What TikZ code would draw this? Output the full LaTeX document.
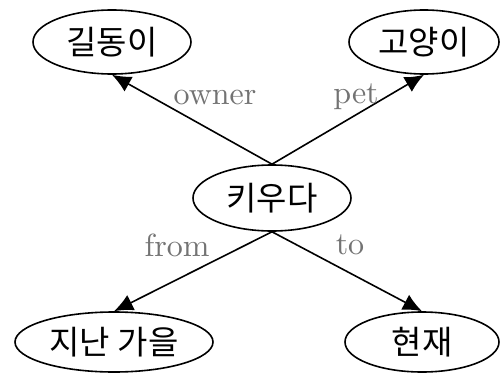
\documentclass[tikz,border=0pt]{standalone}
\usepackage{fontspec}
\newfontfamily\kofont{Noto Sans CJK KR}
\newfontfamily\lbfont{lmroman10-regular}[Extension=.otf]
\usetikzlibrary{shapes.geometric,arrows.meta}
\begin{document}
\begin{tikzpicture}[x=1pt,y=-1pt,
  ell/.style={draw, ellipse, line width=1.6pt, inner sep=0pt, font=\kofont\fontsize{33}{38}\selectfont},
  lbl/.style={text=black!55, font=\lbfont\fontsize{32}{38}\selectfont, inner sep=0pt},
  arr/.style={line width=1.6pt, -{Latex[length=19pt,width=17pt]}}]
\useasboundingbox (0,0) rectangle (501,375);
\node[ell, minimum width=158pt, minimum height=64pt] (g) at (112,42) {길동이};
\node[ell, minimum width=150pt, minimum height=64pt] (c) at (424,42) {고양이};
\node[ell, minimum width=158pt, minimum height=66pt] (k) at (272,198) {키우다};
\node[ell, minimum width=198pt, minimum height=60pt] (f) at (114,342) {지난 가을};
\node[ell, minimum width=154pt, minimum height=60pt] (n) at (422,342) {현재};
\draw[arr] (k.north) -- (g.south);
\draw[arr] (k.north) -- (c.south);
\draw[arr] (k.south) -- (f.north);
\draw[arr] (k.south) -- (n.north);
\node[lbl] (lo) at (215,98) {owner};
\node[lbl] (lp) at (356,97) {pet};
\node[lbl] (lf) at (177,245) {from};
\node[lbl] (lt) at (350,245) {to};
\end{tikzpicture}
\end{document}
